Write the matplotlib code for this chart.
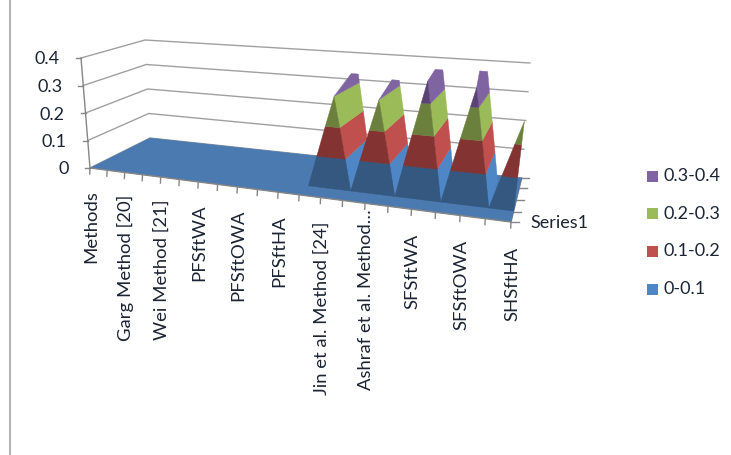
"""3D surface chart drawn on a plain axes with a small hand-made projection."""
import numpy as np
import matplotlib
matplotlib.use('Agg')
import matplotlib.pyplot as plt
from matplotlib.patches import Polygon, Rectangle

plt.rcParams['font.family'] = ['Lato', 'DejaVu Sans']

# data
labels = ['Methods', 'Garg Method [20]', 'Wei Method [21]', 'PFSftWA', 'PFSftOWA', 'PFSftHA',
          'Jin et al. Method [24]', 'Ashraf et al. Method…', 'SFSftWA', 'SFSftOWA', 'SHSftHA']
front_row = [0, 0, 0, 0, 0, 0, 0, 0, 0, 0, 0, 0, 0.30, 0, 0.30, 0, 0.37, 0, 0.36, 0, 0.27]
back_row = [0, 0, 0, 0, 0, 0, 0, 0, 0, 0, 0, 0, 0.33, 0, 0.318, 0, 0.365, 0, 0.37, 0, 0.27]
z_ticks = [0, 0.1, 0.2, 0.3, 0.4]
z_labels = ['0', '0.1', '0.2', '0.3', '0.4']
bands = [(0, 0.1), (0.1, 0.2), (0.2, 0.3), (0.3, 0.4)]
band_names = ['0-0.1', '0.1-0.2', '0.2-0.3', '0.3-0.4']
series_name = 'Series1'

# colours per band
light = ['#4f86c6', '#c0504d', '#9bbb59', '#8064a2']
dark = ['#34587f', '#833331', '#6a803c', '#5a4374']
floor_blue = '#4a7ab0'
grid_col = '#a0a0a0'
axis_col = '#868686'
text_col = '#1c2433'

# frame of the 3D box in pixels: front-left, back-left, back-right, front-right
floor_px = [(90, 168), (150, 138), (521.7, 178), (511, 222)]
rise_px = [(-9, -110), (-5, -98), (8.3, -115), (18, -138)]
depth_ticks = [0, 0.2, 0.45, 0.75, 1]
n_x = 20
z_max = 0.4
d_front = 0.22
d_back = 0.84


def homography(pts):
    src = [(0, 0), (0, 1), (1, 1), (1, 0)]
    a, b = [], []
    for (u, v), (px, py) in zip(src, pts):
        a.append([u, v, 1, 0, 0, 0, -u * px, -v * px])
        b.append(px)
        a.append([0, 0, 0, u, v, 1, -u * py, -v * py])
        b.append(py)
    h = np.linalg.solve(np.array(a, float), np.array(b, float))
    return np.append(h, 1).reshape(3, 3)


H_floor = homography(floor_px)


def project(x, d, z):
    u = x / n_x
    p = H_floor @ np.array([u, d, 1.0])
    base = p[:2] / p[2]
    r = np.array(rise_px, float)
    rise = (1 - u) * ((1 - d) * r[0] + d * r[1]) + u * ((1 - d) * r[3] + d * r[2])
    return base + rise * (z / z_max)


def clip_z(poly, lo, hi):
    """Cut a polygon of (x, d, z) points to the band lo..hi"""
    def clip(points, keep, limit):
        out = []
        for i, p in enumerate(points):
            q = points[(i + 1) % len(points)]
            if keep(p[2]):
                out.append(p)
            if keep(p[2]) != keep(q[2]):
                t = (limit - p[2]) / (q[2] - p[2])
                out.append(tuple(a + (b - a) * t for a, b in zip(p, q)))
        return out
    res = clip(poly, lambda z: z >= lo, lo)
    if res:
        res = clip(res, lambda z: z <= hi, hi)
    return res


def draw_facet(ax, poly, colours, zorder):
    for (lo, hi), c in zip(bands, colours):
        part = clip_z(poly, lo, hi)
        if len(part) >= 3:
            pts = [project(*p) for p in part]
            ax.add_patch(Polygon(pts, closed=True, fc=c, ec=c, lw=0.3, zorder=zorder))


fig = plt.figure(figsize=(7.31, 4.55), dpi=100)
ax = fig.add_axes([0, 0, 1, 1])
ax.set_xlim(0, 731)
ax.set_ylim(455, 0)
ax.axis('off')

# chart border
ax.plot([10, 10], [0, 455], color='#b4b4b4', lw=1.5, zorder=1)

# gridlines on the walls
for k, z in enumerate(z_ticks):
    pts = [project(0, 0, z), project(0, 1, z), project(n_x, 1, z)]
    ax.plot(*zip(*pts), color=grid_col, lw=1.0, zorder=1)
    p = project(0, 0, z)
    ax.plot([p[0] - 5, p[0]], [p[1], p[1]], color=axis_col, lw=1.0, zorder=1)
    ax.text(p[0] - 21, p[1] + 1.5, z_labels[k], ha='right', va='center',
            fontsize=13, color=text_col)
ax.plot(*zip(project(0, 0, 0), project(0, 0, z_max)), color=axis_col, lw=1.0, zorder=1)

# floor
floor = [project(0, 0, 0), project(0, 1, 0), project(n_x, 1, 0), project(n_x, 0, 0)]
ax.add_patch(Polygon(floor, closed=True, fc=floor_blue, ec=floor_blue, lw=0.3, zorder=2))

# axis ticks along the front and depth
for i in range(n_x + 1):
    p = project(i, 0, 0)
    ax.plot([p[0], p[0] - 0.3], [p[1], p[1] + 6], color=axis_col, lw=1.0, zorder=1)
ax.plot(*zip(project(0, 0, 0), project(n_x, 0, 0)), color=axis_col, lw=1.0, zorder=3)
for d in depth_ticks:
    p = project(n_x, d, 0)
    ax.plot([p[0], p[0] + 7.5], [p[1], p[1]], color=axis_col, lw=1.0, zorder=1)
ax.plot(*zip(project(n_x, 0, 0), project(n_x, 1, 0)), color=axis_col, lw=1.0, zorder=1)

# peaks, left to right so each one hides the back of the one before
z = 10
for i in range(1, n_x + 1):
    if front_row[i] == 0:
        continue
    vf, vb = front_row[i], back_row[i]
    if i < n_x:
        slope = [(i, d_front, vf), (i + 1, d_front, 0), (i + 1, d_back, 0),
                 (i + 0.2, d_back, vb), (i - 0.15, d_back, vb)]
        draw_facet(ax, slope, light, z)
        z += 1
        wall = [(i - 1, d_front, 0), (i + 1, d_front, 0), (i, d_front, vf)]
    else:
        wall = [(i - 1, d_front, 0), (i, d_front, 0), (i, d_front, vf)]
    draw_facet(ax, wall, dark, z)
    z += 1

# category labels, every second tick
for k, name in enumerate(labels):
    p = project(k * 2, 0, 0)
    nudge = -18 if name.endswith('…') else 0
    ax.text(p[0] + 1, p[1] + 22 + 0.3 * k + nudge, name, rotation=90, ha='center', va='top',
            fontsize=13.3, color=text_col)

p = project(n_x, 0, 0)
ax.text(p[0] + 19, p[1] + 1, series_name, ha='left', va='center', fontsize=13, color=text_col)

# legend, top entry is the highest band
for k, idx in enumerate(reversed(range(len(bands)))):
    y = 176 + k * 37.7
    ax.add_patch(Rectangle((647, y - 5.5), 11, 11, fc=light[idx], ec='none'))
    ax.text(664, y, band_names[idx], ha='left', va='center', fontsize=13, color=text_col)

fig.savefig('out.png', dpi=100)
